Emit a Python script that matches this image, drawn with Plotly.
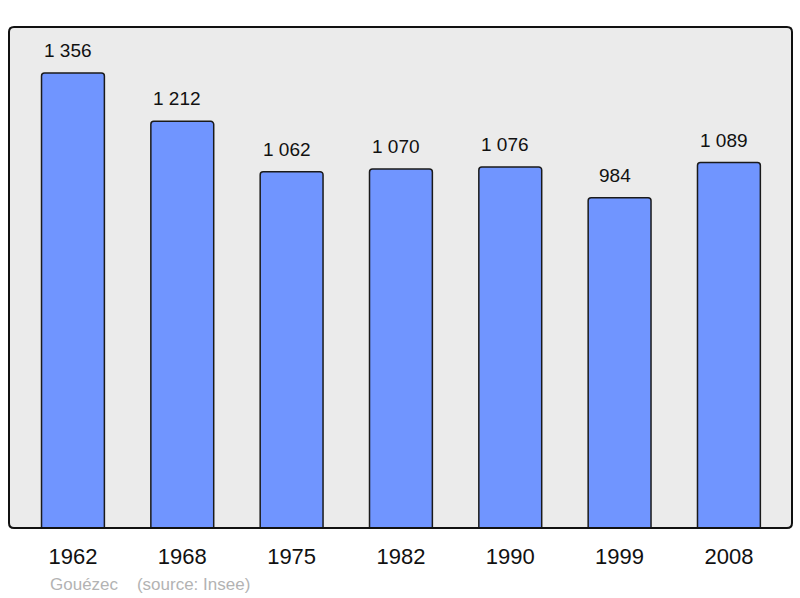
import plotly.graph_objects as go

years = ["1962", "1968", "1975", "1982", "1990", "1999", "2008"]
population = [1356, 1212, 1062, 1070, 1076, 984, 1089]
value_labels = ["1 356", "1 212", "1 062", "1 070", "1 076", "984", "1 089"]

fig = go.Figure()
fig.add_trace(go.Bar(
    x=years, y=population, width=0.575,
    marker=dict(color="#7095ff", line=dict(color="#1a1a1a", width=1.5)),
    hoverinfo="skip",
))
for i, (v, lab) in enumerate(zip(population, value_labels)):
    fig.add_annotation(x=i, y=v, text=lab, showarrow=False, yanchor="bottom",
                       yshift=10, xshift=-5,
                       font=dict(family="Liberation Sans, Arial", size=19, color="#111"))

L, R, T, B = 9, 8, 27, 70
W, H = 800, 598
rx = 5 / (W - L - R)
ry = 5 / (H - T - B)
path = (f"M {rx},0 L {1-rx},0 Q 1,0 1,{ry} L 1,{1-ry} Q 1,1 {1-rx},1 "
        f"L {rx},1 Q 0,1 0,{1-ry} L 0,{ry} Q 0,0 {rx},0 Z")
fig.add_shape(type="path", xref="paper", yref="paper", path=path,
              line=dict(color="#111", width=2), layer="above")

fig.add_annotation(xref="paper", yref="paper", x=(48 - L) / (W - L - R), y=-(584 - (H - B)) / (H - T - B),
                   text="Gouézec&nbsp;&nbsp;&nbsp;&nbsp;(source: Insee)", showarrow=False,
                   xanchor="left", yanchor="middle",
                   font=dict(family="Liberation Sans, Arial", size=17, color="#b3b3b3"))

fig.update_layout(
    width=W, height=H,
    margin=dict(l=L, r=R, t=T, b=B),
    paper_bgcolor="white", plot_bgcolor="#ebebeb",
    showlegend=False, barcornerradius=3,
    xaxis=dict(type="category", range=[-0.585, 6.577], showgrid=False, zeroline=False, ticks="",
               tickfont=dict(family="Liberation Sans, Arial", size=22, color="#111"),
               ticklabelstandoff=13),
    yaxis=dict(range=[0, 1493], showgrid=False, zeroline=False, showticklabels=False),
)
fig.write_html("out.html", config={"displayModeBar": False},
               post_script="document.body.style.margin='0';")
